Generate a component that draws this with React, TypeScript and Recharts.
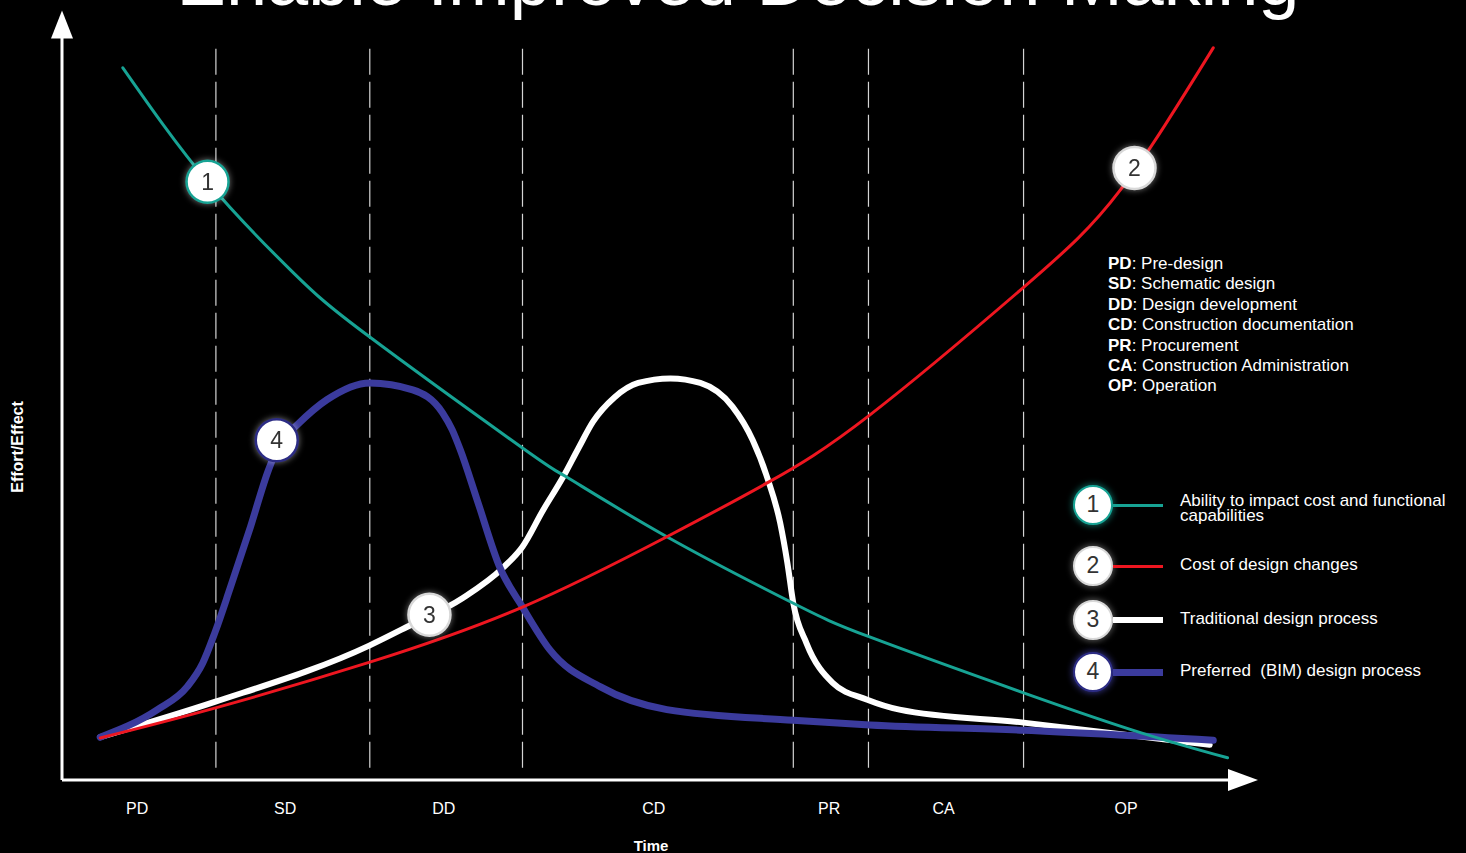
import type React from 'react'
import {
  Legend,
  Line,
  LineChart,
  ReferenceDot,
  ReferenceLine,
  XAxis,
  YAxis
} from 'recharts'

const FONTE = '"Liberation Sans", Arial, Helvetica, sans-serif'

// fases do projeto (eixo do tempo 0..100)
const phaseCodes = ['PD', 'SD', 'DD', 'CD', 'PR', 'CA', 'OP']
const phaseNames = [
  'Pre-design',
  'Schematic design',
  'Design development',
  'Construction documentation',
  'Procurement',
  'Construction Administration',
  'Operation'
]
const phaseLabelAt = [6.3, 18.7, 32.0, 49.6, 64.3, 73.9, 89.2]
const phaseBoundaries = [12.9, 25.8, 38.6, 61.3, 67.6, 80.6]

const seriesNames = [
  'Ability to impact cost and functional capabilities',
  'Cost of design changes',
  'Traditional design process',
  'Preferred  (BIM) design process'
]
const seriesColors = ['#17a394', '#ee1620', '#ffffff', '#3b3b9d']
const seriesWidths = [3, 3, 6, 7]
const seriesCurves = ['natural', 'natural', 'monotone', 'monotone'] as const
const badgeRings = ['#17a394', '#d8d8d8', '#d8d8d8', '#2c2c84']

// curvas: t = tempo, v = esforço/efeito
const ability = [
  { t: 5.1, v: 93.1 },
  { t: 12.2, v: 78.2 },
  { t: 19.4, v: 66.3 },
  { t: 25.8, v: 57.9 },
  { t: 38.6, v: 43.4 },
  { t: 42.3, v: 39.6 },
  { t: 50.7, v: 31.8 },
  { t: 61.3, v: 23.1 },
  { t: 67.7, v: 18.7 },
  { t: 80.6, v: 11.4 },
  { t: 90.6, v: 6.1 },
  { t: 97.7, v: 2.9 }
]

const cost = [
  { t: 3.2, v: 5.5 },
  { t: 12.8, v: 9.4 },
  { t: 25.8, v: 15.4 },
  { t: 38.6, v: 22.6 },
  { t: 50.7, v: 31.8 },
  { t: 59.3, v: 39.0 },
  { t: 67.7, v: 47.7 },
  { t: 80.6, v: 64.4 },
  { t: 88.7, v: 77.1 },
  { t: 96.5, v: 95.7 }
]

const traditional = [
  { t: 3.2, v: 5.6 },
  { t: 12.8, v: 10.2 },
  { t: 25.8, v: 17.6 },
  { t: 28.9, v: 20.0 },
  { t: 33.6, v: 23.8 },
  { t: 37.0, v: 27.8 },
  { t: 38.6, v: 30.5 },
  { t: 40.3, v: 35.2 },
  { t: 42.0, v: 39.6 },
  { t: 43.3, v: 43.4 },
  { t: 44.5, v: 46.8 },
  { t: 46.3, v: 50.0 },
  { t: 48.3, v: 51.9 },
  { t: 51.0, v: 52.5 },
  { t: 53.5, v: 51.9 },
  { t: 56.2, v: 48.8 },
  { t: 57.9, v: 44.4 },
  { t: 59.1, v: 39.6 },
  { t: 60.2, v: 33.6 },
  { t: 60.8, v: 28.4 },
  { t: 61.3, v: 23.1 },
  { t: 62.4, v: 17.9 },
  { t: 64.6, v: 12.7 },
  { t: 67.5, v: 10.5 },
  { t: 70.2, v: 9.2 },
  { t: 80.6, v: 7.5 },
  { t: 96.2, v: 4.6 }
]

const preferred = [
  { t: 3.2, v: 5.6 },
  { t: 8.0, v: 9.2 },
  { t: 10.5, v: 12.2 },
  { t: 11.8, v: 15.3 },
  { t: 12.8, v: 19.2 },
  { t: 14.1, v: 25.1 },
  { t: 15.8, v: 33.1 },
  { t: 17.3, v: 40.5 },
  { t: 18.3, v: 44.1 },
  { t: 19.7, v: 46.4 },
  { t: 22.2, v: 49.7 },
  { t: 25.8, v: 51.9 },
  { t: 29.4, v: 51.0 },
  { t: 31.9, v: 48.0 },
  { t: 32.7, v: 45.8 },
  { t: 33.4, v: 43.1 },
  { t: 34.8, v: 36.6 },
  { t: 36.7, v: 27.8 },
  { t: 38.6, v: 22.6 },
  { t: 40.9, v: 17.0 },
  { t: 45.1, v: 12.2 },
  { t: 50.7, v: 9.2 },
  { t: 61.3, v: 7.8 },
  { t: 67.7, v: 7.2 },
  { t: 80.6, v: 6.5 },
  { t: 96.5, v: 5.2 }
]

// onde os números 1..4 ficam sobre as curvas
const badgeAt = [
  { t: 12.2, v: 78.2 },
  { t: 89.9, v: 80.0 },
  { t: 30.8, v: 21.6 },
  { t: 18.0, v: 44.4 }
]

const seriesData = [ability, cost, traditional, preferred]
// ordem de desenho: branco por baixo, depois azul, verde e vermelho
const drawOrder = [2, 3, 0, 1]

function setaParaCima(p: any): React.JSX.Element {
  const { x1, y1, x2, y2 } = p
  return (
    <g>
      <line x1={x1} y1={y1} x2={x2} y2={y2 + 20} stroke="#fff" strokeWidth={3} />
      <polygon points={`${x2},${y2} ${x2 - 11},${y2 + 28} ${x2 + 11},${y2 + 28}`} fill="#fff" />
    </g>
  )
}

function setaParaDireita(p: any): React.JSX.Element {
  const { x1, y1, x2, y2 } = p
  return (
    <g>
      <line x1={x1} y1={y1} x2={x2 - 20} y2={y2} stroke="#fff" strokeWidth={3} />
      <polygon points={`${x2},${y2} ${x2 - 30},${y2 - 11} ${x2 - 30},${y2 + 11}`} fill="#fff" />
    </g>
  )
}

function badge(i: number) {
  return (p: any): React.JSX.Element => (
    <g style={{ filter: 'drop-shadow(0 0 3px rgba(255,255,255,0.45))' }}>
      <circle cx={p.cx} cy={p.cy} r={21} fill="#fff" stroke={badgeRings[i]} strokeWidth={2.5} />
      <text
        x={p.cx}
        y={p.cy + 8}
        textAnchor="middle"
        fontSize={23}
        fontFamily={FONTE}
        fill="#333"
      >
        {i + 1}
      </text>
    </g>
  )
}

const legendRowCenters = [25, 86, 140, 192]

function LegendaCurvas(props: any): React.JSX.Element {
  const itens = [...(props.payload ?? [])].sort(
    (a: any, b: any) => seriesNames.indexOf(a.value) - seriesNames.indexOf(b.value)
  )
  return (
    <div style={{ position: 'relative', width: 406, height: 220, fontFamily: FONTE }}>
      {itens.map((it: any) => {
        const i = seriesNames.indexOf(it.value)
        const cy = legendRowCenters[i]
        return (
          <div key={it.value}>
            <div
              style={{
                position: 'absolute',
                left: 13,
                top: cy - 20,
                width: 40,
                height: 40,
                boxSizing: 'border-box',
                borderRadius: '50%',
                background: '#fff',
                border: `2.5px solid ${badgeRings[i]}`,
                boxShadow: `0 0 6px 1px ${i === 0 ? 'rgba(23,163,148,0.6)' : i === 3 ? 'rgba(80,80,200,0.6)' : 'rgba(255,255,255,0.35)'}`,
                color: '#333',
                fontSize: 23,
                lineHeight: '35px',
                textAlign: 'center'
              }}
            >
              {i + 1}
            </div>
            <div
              style={{
                position: 'absolute',
                left: 53,
                top: cy - seriesWidths[i] / 2,
                width: 50,
                height: seriesWidths[i],
                background: it.color
              }}
            />
            <div
              style={{
                position: 'absolute',
                left: 120,
                top: i === 0 ? cy - 12 : cy - 9,
                width: 292,
                color: '#fff',
                fontSize: 17,
                lineHeight: '15px',
                whiteSpace: 'pre-wrap'
              }}
            >
              {it.value}
            </div>
          </div>
        )
      })}
    </div>
  )
}

export default function App(): React.JSX.Element {
  return (
    <div
      style={{
        position: 'absolute',
        left: 0,
        top: 0,
        width: 1466,
        height: 853,
        background: '#000',
        overflow: 'hidden',
        fontFamily: FONTE
      }}
    >
      <div
        style={{
          position: 'absolute',
          left: 5,
          top: -57,
          width: 1466,
          textAlign: 'center',
          color: '#fff',
          fontSize: 74,
          lineHeight: '74px',
          whiteSpace: 'nowrap'
        }}
      >
        Enable Improved Decision Making
      </div>

      <LineChart width={1466} height={853} margin={{ top: 15, right: 211, bottom: 0, left: 0 }}>
        <XAxis
          dataKey="t"
          type="number"
          domain={[0, 100]}
          allowDataOverflow
          ticks={phaseLabelAt}
          interval={0}
          tickFormatter={(_v, i) => phaseCodes[i]}
          axisLine={false}
          tickLine={false}
          height={73}
          tickMargin={17}
          tick={{ fill: '#fff', fontSize: 16, fontFamily: FONTE }}
          label={{
            content: () => (
              <text x={651} y={851} textAnchor="middle" fill="#fff" fontSize={15} fontWeight="bold" fontFamily={FONTE}>
                Time
              </text>
            )
          }}
        />
        <YAxis
          type="number"
          domain={[0, 100]}
          allowDataOverflow
          width={62}
          tick={false}
          axisLine={false}
          tickLine={false}
          label={{
            content: () => (
              <text
                x={23}
                y={447}
                transform="rotate(-90 23 447)"
                textAnchor="middle"
                fill="#fff"
                fontSize={16}
                fontWeight="bold"
                fontFamily={FONTE}
              >
                Effort/Effect
              </text>
            )
          }}
        />

        {phaseBoundaries.map((b) => (
          <ReferenceLine
            key={b}
            segment={[
              { x: b, y: 1.6 },
              { x: b, y: 95.7 }
            ]}
            stroke="#d4d4d4"
            strokeWidth={1.2}
            strokeDasharray="26 7"
          />
        ))}

        {drawOrder.map((i) => (
          <Line
            key={seriesNames[i]}
            data={seriesData[i]}
            dataKey="v"
            name={seriesNames[i]}
            type={seriesCurves[i]}
            stroke={seriesColors[i]}
            strokeWidth={seriesWidths[i]}
            strokeLinecap="round"
            dot={false}
            activeDot={false}
            isAnimationActive={false}
          />
        ))}

        <ReferenceLine
          segment={[
            { x: 0, y: 0 },
            { x: 0, y: 100.6 }
          ]}
          ifOverflow="visible"
          shape={setaParaCima}
        />
        <ReferenceLine
          segment={[
            { x: 0, y: 0 },
            { x: 100.25, y: 0 }
          ]}
          ifOverflow="visible"
          shape={setaParaDireita}
        />

        {badgeAt.map((b, i) => (
          <ReferenceDot key={i} x={b.t} y={b.v} r={21} ifOverflow="visible" shape={badge(i)} />
        ))}

        <Legend
          layout="horizontal"
          verticalAlign="middle"
          align="center"
          wrapperStyle={{ left: 1060, top: 480, width: 406, height: 220 }}
          content={LegendaCurvas}
        />
      </LineChart>

      <div
        style={{
          position: 'absolute',
          left: 1108,
          top: 254,
          color: '#fff',
          fontSize: 17,
          lineHeight: '20.4px',
          whiteSpace: 'nowrap'
        }}
      >
        {phaseCodes.map((c, i) => (
          <div key={c}>
            <b>{c}</b>: {phaseNames[i]}
          </div>
        ))}
      </div>
    </div>
  )
}
